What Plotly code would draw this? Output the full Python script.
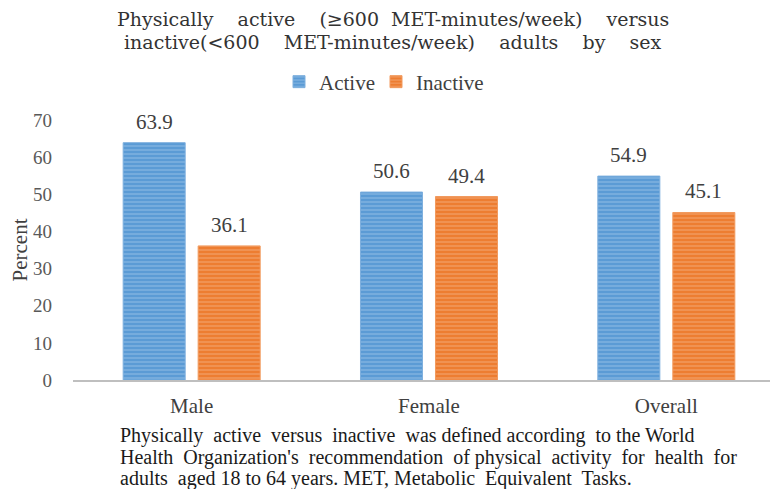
import plotly.graph_objects as go

categories = ["Male", "Female", "Overall"]
active = [63.9, 50.6, 54.9]
inactive = [36.1, 49.4, 45.1]
y_ticks = [0, 10, 20, 30, 40, 50, 60, 70]

G = "\u00a0" * 4
title_lines = [
    f"Physically{G}active{G}(≥600{G[:2]}MET-minutes/week){G}versus",
    f"inactive(<600{G}MET-minutes/week){G}adults{G}by{G}sex",
]
caption_lines = [
    "Physically\u00a0 active\u00a0 versus\u00a0 inactive\u00a0 was defined according\u00a0 to the World",
    "Health\u00a0 Organization's\u00a0 recommendation\u00a0 of physical\u00a0 activity\u00a0 for\u00a0 health\u00a0 for",
    "adults\u00a0 aged 18 to 64 years. MET,\u00a0Metabolic\u00a0 Equivalent\u00a0 Tasks.",
]

SERIF = "Liberation Serif"
TXT = "#404040"

fig = go.Figure()
fig.add_trace(go.Bar(
    name="Active", x=categories, y=active, legend="legend",
    marker=dict(color="#5B9BD5", line=dict(color="#7FB0DE", width=1),
                pattern=dict(shape="-", fgcolor="#A9CBEB", size=4, solidity=0.35, fillmode="overlay")),
))
fig.add_trace(go.Bar(
    name="Inactive", x=categories, y=inactive, legend="legend2",
    marker=dict(color="#ED7D31", line=dict(color="#F29A5E", width=1),
                pattern=dict(shape="-", fgcolor="#F6B98F", size=4, solidity=0.35, fillmode="overlay")),
))

annotations = []
for series, shift in ((active, -37.5), (inactive, 37.5)):
    for c, v in zip(categories, series):
        annotations.append(dict(
            x=c, y=v, xref="x", yref="y", text=f"{v:.1f}", showarrow=False,
            xanchor="center", yanchor="bottom", xshift=shift, yshift=7,
            font=dict(family=SERIF, size=21, color=TXT),
        ))
for i, line in enumerate(title_lines):
    annotations.append(dict(
        text=line, xref="paper", yref="paper", x=(385 - 65) / 712, y=1 + (112 - [11, 34][i]) / 260,
        xanchor="center", yanchor="middle", showarrow=False,
        font=dict(family="DejaVu Serif", size=19, color="#333333"),
    ))
for i, line in enumerate(caption_lines):
    annotations.append(dict(
        text=line, xref="paper", yref="paper", x=(110 - 65) / 712, y=-([427, 449, 470][i] - 372) / 260,
        xanchor="left", yanchor="middle", showarrow=False,
        font=dict(family=SERIF, size=20, color="#1a1a1a"),
    ))

leg_common = dict(orientation="h", xref="container", yref="container", xanchor="left",
                  yanchor="middle", y=1 - 74 / 489, itemwidth=30,
                  font=dict(family=SERIF, size=21, color=TXT), bgcolor="rgba(0,0,0,0)")

fig.update_layout(
    width=778, height=489,
    margin=dict(l=65, r=1, t=112, b=117, autoexpand=False),
    paper_bgcolor="white", plot_bgcolor="white",
    barmode="group", bargap=0.368, bargroupgap=0.173,
    showlegend=True,
    legend=dict(x=271 / 778, **leg_common),
    legend2=dict(x=368 / 778, **leg_common),
    annotations=annotations,
    xaxis=dict(showline=True, linecolor="#BFBFBF", linewidth=1.5, showgrid=False,
               ticks="", tickfont=dict(family=SERIF, size=21, color=TXT),
               ticklabelstandoff=6),
    yaxis=dict(range=[0, 70], tickvals=y_ticks, showgrid=False, zeroline=False,
               showline=False, ticks="", tickfont=dict(family=SERIF, size=19, color="#595959"),
               ticklabelstandoff=20,
               title=dict(text="Percent", font=dict(family=SERIF, size=21, color=TXT), standoff=2)),
)

fig.write_html("out.html")
